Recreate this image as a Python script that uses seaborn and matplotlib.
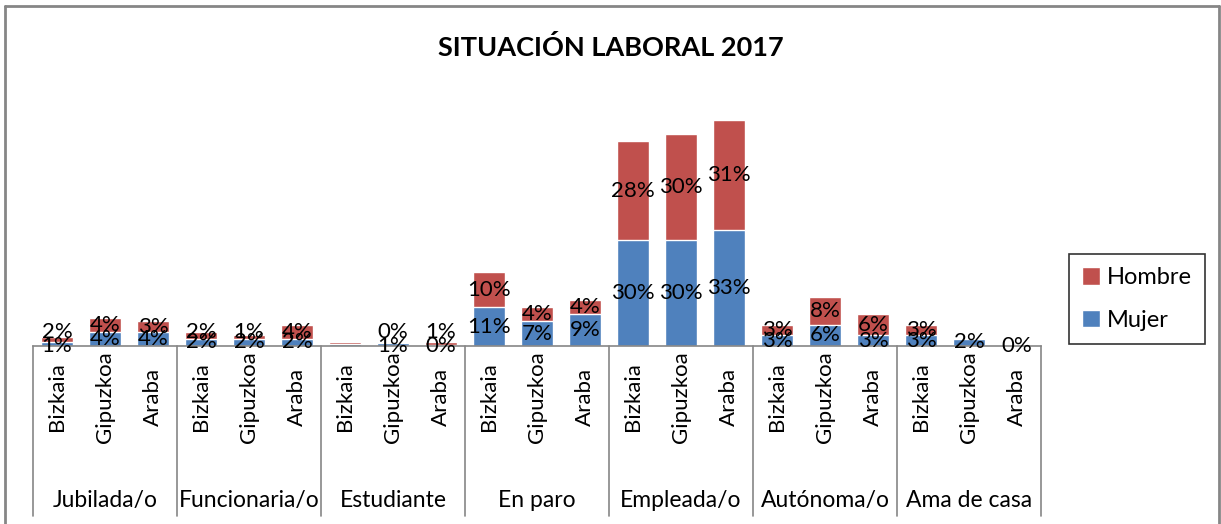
# Situación laboral 2017 - barras apiladas Mujer / Hombre por provincia

import pandas as pd
import seaborn as sns
import matplotlib.pyplot as plt
from matplotlib.patches import Patch
from matplotlib.lines import Line2D

# Datos
grupos = ['Jubilada/o', 'Funcionaria/o', 'Estudiante', 'En paro',
          'Empleada/o', 'Autónoma/o', 'Ama de casa']
provincias = ['Bizkaia', 'Gipuzkoa', 'Araba']

mujer = [1, 4, 4,   2, 2, 2,   0.6, 0.8, 0.2,   11, 7, 9,
         30, 30, 33,   3, 6, 3,   3, 2, 0]
hombre = [1.6, 4, 3,   2, 1, 4,   0.4, 0.2, 0.8,   10, 4, 4,
          28, 30, 31,   3, 8, 6,   3, 0.3, 0]

# etiquetas que no aparecen en el gráfico original (serie, posición)
sin_etiqueta = [('mujer', 6), ('hombre', 6), ('hombre', 19), ('hombre', 20)]

azul = '#4F81BD'
rojo = '#C0504D'
gris = '#868686'

# tabla
filas = []
for i, g in enumerate(grupos):
    for j, p in enumerate(provincias):
        k = i * 3 + j
        filas.append({'clave': f'{g}|{p}', 'grupo': g, 'provincia': p,
                      'Mujer': mujer[k], 'Hombre': hombre[k],
                      'Total': mujer[k] + hombre[k]})
df = pd.DataFrame(filas)

sns.set_style('white')
plt.rcParams['font.family'] = ['Lato', 'DejaVu Sans']
plt.rcParams['text.color'] = 'black'
plt.rcParams['xtick.color'] = 'black'

fig = plt.figure(figsize=(12.21, 5.24), dpi=100)
ax = fig.add_axes([33 / 1221, (524 - 346) / 524, (1041 - 33) / 1221, 247 / 524])

# apilado: total en rojo, mujer encima en azul
sns.barplot(data=df, x='clave', y='Total', color=rojo, width=0.66,
            saturation=1, ax=ax)
sns.barplot(data=df, x='clave', y='Mujer', color=azul, width=0.66,
            saturation=1, ax=ax)

ax.set_ylim(0, 70)
ax.set_xlim(-0.5, len(df) - 0.5)
ax.set_xlabel('')
ax.set_ylabel('')
ax.set_yticks([])
for s in ['left', 'right', 'top']:
    ax.spines[s].set_visible(False)
ax.spines['bottom'].set_color(gris)
ax.spines['bottom'].set_linewidth(1.2)

# etiquetas de datos
for k in range(len(df)):
    m = mujer[k]
    h = hombre[k]
    if ('mujer', k) not in sin_etiqueta:
        y = m / 2 if m >= 2 else 0
        ax.text(k, y, f'{m:.0f}%', ha='center', va='center', fontsize=16)
    if ('hombre', k) not in sin_etiqueta:
        y = max(m + h / 2, 4)
        ax.text(k, y, f'{h:.0f}%', ha='center', va='center', fontsize=16)

# eje de categorías en dos niveles
ax.set_xticks(range(len(df)))
ax.set_xticklabels(df['provincia'], rotation=90, fontsize=16)
ax.tick_params(axis='x', length=0, pad=0)
for lbl in ax.get_xticklabels():
    lbl.set_verticalalignment('center')
    lbl.set_y(-0.205)

trans = ax.get_xaxis_transform()
for i in range(len(grupos) + 1):
    ax.add_line(Line2D([i * 3 - 0.5, i * 3 - 0.5], [0, -0.69], transform=trans,
                       color=gris, lw=1.2, clip_on=False))
for i, g in enumerate(grupos):
    ax.text(i * 3 + 1, -0.625, g, transform=trans, ha='center', va='center',
            fontsize=16.5)

# título
fig.text(611 / 1221, 1 - 47 / 524, 'SITUACIÓN LABORAL 2017', ha='center',
         va='center', fontsize=19.5, fontweight='bold')

# leyenda
handles = [Patch(facecolor=rojo, label='Hombre'),
           Patch(facecolor=azul, label='Mujer')]
leg = fig.legend(handles=handles, loc='center', fontsize=17,
                 bbox_to_anchor=(1137 / 1221, 1 - 299 / 524),
                 frameon=True, fancybox=False, labelspacing=0.9,
                 handlelength=0.75, handleheight=0.75, handletextpad=0.3,
                 borderpad=0.55, borderaxespad=0)
leg.get_frame().set_edgecolor('black')
leg.get_frame().set_linewidth(1.2)

# borde del área del gráfico
for xs, ys in [([5, 5], [524, 6]), ([5, 1219], [6, 6]), ([1219, 1219], [6, 524])]:
    fig.add_artist(Line2D([x / 1221 for x in xs], [1 - y / 524 for y in ys],
                          color=gris, lw=2))

fig.savefig('out.png', dpi=100)
